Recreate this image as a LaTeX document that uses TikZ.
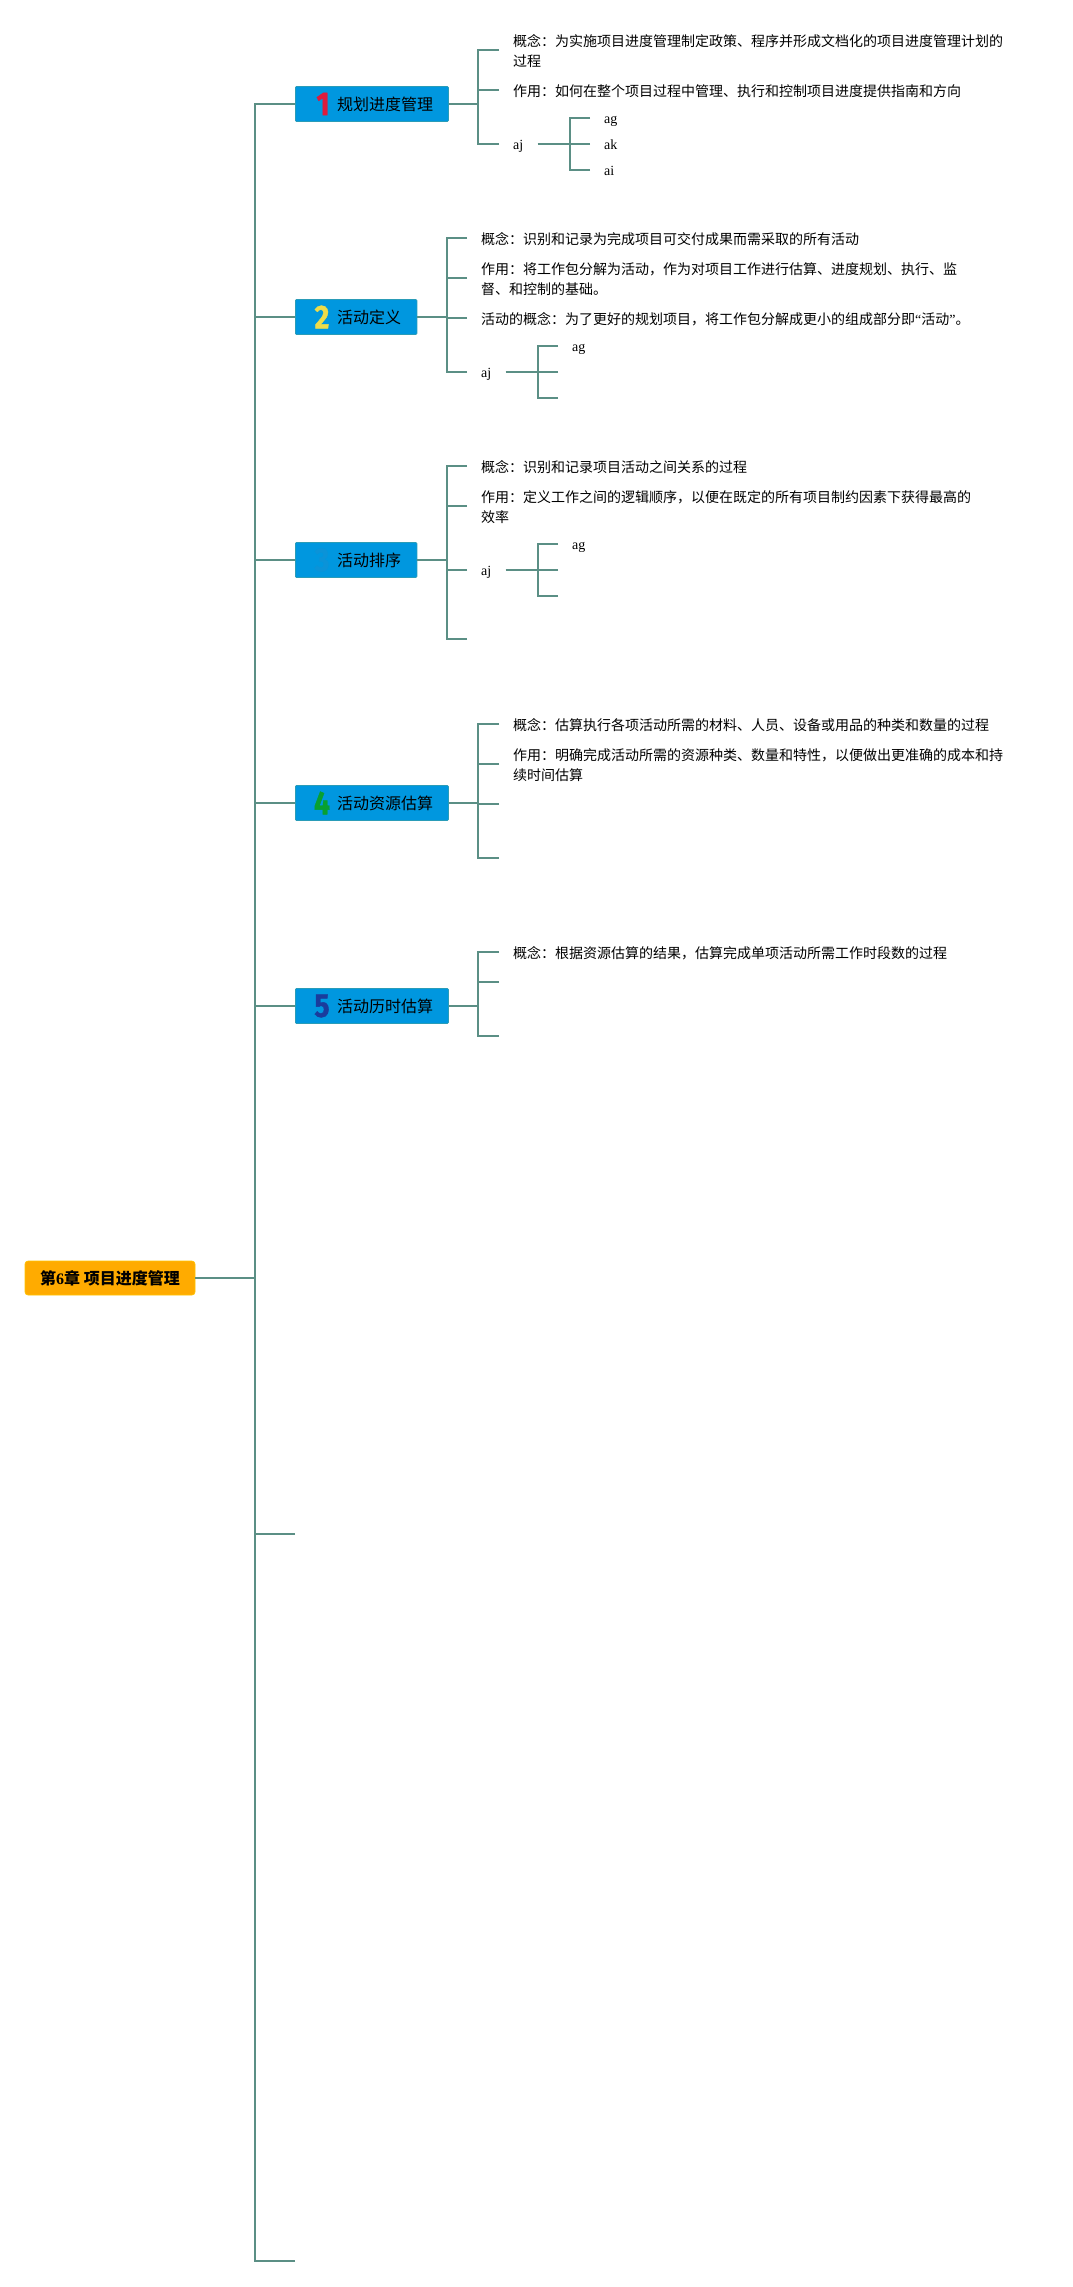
\documentclass[tikz,border=0pt]{standalone}
\usepackage{fontspec}
\usepackage{graphicx}
\setmainfont{Liberation Serif}
\newfontfamily\cjk{Noto Sans CJK SC}
\newfontfamily\digitfont[BoldFeatures={FakeBold=1.2}]{Fira Sans}
\definecolor{linecol}{HTML}{5B8F85}
\definecolor{nodeblue}{HTML}{0097DF}
\definecolor{nodeedge}{HTML}{2A9CB8}
\definecolor{rootfill}{HTML}{FFAB00}
\definecolor{dred}{HTML}{DE1A3C}
\definecolor{dyellow}{HTML}{EEDC4A}
\definecolor{dgreen}{HTML}{08A030}
\definecolor{dblue}{HTML}{1A3C9C}
\definecolor{dfaint}{HTML}{0B93D8}
\newcommand{\dg}[1]{\scalebox{.86}[1]{#1}}
\tikzset{
  conn/.style={draw=linecol,line width=2pt},
  rootbox/.style={fill=rootfill,draw=rootfill!70!yellow,line width=.6pt,rounded corners=3pt,minimum width=170pt,minimum height=34pt,inner sep=0pt,font=\fontsize{16}{20}\selectfont\bfseries\cjk},
  topic/.style={fill=nodeblue,draw=nodeedge,line width=.8pt,rounded corners=1pt,minimum height=35pt,inner sep=0pt,anchor=west},
  topictext/.style={anchor=west,inner sep=0pt,font=\fontsize{16}{20}\selectfont\cjk},
  digit/.style={inner sep=0pt,font=\fontsize{33}{33}\selectfont\digitfont\bfseries},
  leaf/.style={anchor=west,inner ysep=0pt,inner xsep=14pt,align=left,text height=15pt,font=\fontsize{14}{20}\selectfont\cjk},
  leaftwo/.style={leaf,text height=35pt},
  small/.style={anchor=west,inner ysep=0pt,inner xsep=14pt,text height=13pt,text depth=3pt,font=\fontsize{14}{20}\selectfont}
}
\begin{document}
\begin{tikzpicture}[x=1pt,y=-1pt]
\useasboundingbox (0,0) rectangle (1073,2287);
\fill[white] (0,0) rectangle (1073,2287);
% root and trunk
\node[rootbox] (root) at (110,1278) {第{\rmfamily\bfseries 6}章 项目进度管理};
\coordinate (trunk) at (255,1278);
% topics
\node[topic,minimum width=153pt] (t1) at (295,104) {};
\node[topic,minimum width=121.5pt] (t2) at (295,317) {};
\node[topic,minimum width=121.5pt] (t3) at (295,560) {};
\node[topic,minimum width=153pt] (t4) at (295,803) {};
\node[topic,minimum width=153pt] (t5) at (295,1006) {};
\coordinate (t6) at (295,1534);
\coordinate (t7) at (295,2261);
\node[topictext] (t1x) at (337,104.5) {规划进度管理};
\node[topictext] (t2x) at (337,317.5) {活动定义};
\node[topictext] (t3x) at (337,560.5) {活动排序};
\node[topictext] (t4x) at (337,803.5) {活动资源估算};
\node[topictext] (t5x) at (337,1006.5) {活动历时估算};
\node[digit,text=dred] (d1) at (323,104) {\dg{1}};
\node[digit,text=dyellow] (d2) at (322,317) {\dg{2}};
\node[digit,text=dfaint] (d3) at (322,560) {\dg{3}};
\node[digit,text=dgreen] (d4) at (322,803) {\dg{4}};
\node[digit,text=dblue] (d5) at (322,1006) {\dg{5}};
% trunk connectors
\draw[conn] (root.east) -- (trunk);
\foreach \t in {t1,t2,t3,t4,t5,t6,t7} {\draw[conn] (\t.west) -| (trunk);}
% group 1
\coordinate (j1) at (478,104);
\node[leaftwo] (a1) at (499,50) {概念：为实施项目进度管理制定政策、程序并形成文档化的项目进度管理计划的\\过程};
\node[leaf] (a2) at (499,90) {作用：如何在整个项目过程中管理、执行和控制项目进度提供指南和方向};
\node[small] (a3) at (499,144) {aj};
\coordinate (j1b) at (570,144);
\node[small] (a31) at (590,118) {ag};
\node[small] (a32) at (590,144) {ak};
\node[small] (a33) at (590,170) {ai};
\draw[conn] (t1.east) -- (j1);
\foreach \n in {a1,a2,a3} {\draw[conn] (\n.west) -| (j1);}
\draw[conn] (a3.east) -- (j1b);
\foreach \n in {a31,a32,a33} {\draw[conn] (\n.west) -| (j1b);}
% group 2
\coordinate (j2) at (447,317);
\node[leaf] (b1) at (467,238) {概念：识别和记录为完成项目可交付成果而需采取的所有活动};
\node[leaftwo] (b2) at (467,278) {作用：将工作包分解为活动，作为对项目工作进行估算、进度规划、执行、监\\督、和控制的基础。};
\node[leaf] (b3) at (467,318) {活动的概念：为了更好的规划项目，将工作包分解成更小的组成部分即{\rmfamily “}活动{\rmfamily ”}。};
\node[small] (b4) at (467,372) {aj};
\coordinate (j2b) at (538,372);
\node[small] (b41) at (558,346) {ag};
\coordinate (b42) at (558,372);
\coordinate (b43) at (558,398);
\draw[conn] (t2.east) -- (j2);
\foreach \n in {b1,b2,b3,b4} {\draw[conn] (\n.west) -| (j2);}
\draw[conn] (b4.east) -- (j2b);
\draw[conn] (b41.west) -| (j2b);
\draw[conn] (b42) -- (j2b);
\draw[conn] (b43) -| (j2b);
% group 3
\coordinate (j3) at (447,560);
\node[leaf] (c1) at (467,466) {概念：识别和记录项目活动之间关系的过程};
\node[leaftwo] (c2) at (467,506) {作用：定义工作之间的逻辑顺序，以便在既定的所有项目制约因素下获得最高的\\效率};
\node[small] (c3) at (467,570) {aj};
\coordinate (c4) at (467,639);
\coordinate (j3b) at (538,570);
\node[small] (c31) at (558,544) {ag};
\coordinate (c32) at (558,570);
\coordinate (c33) at (558,596);
\draw[conn] (t3.east) -- (j3);
\foreach \n in {c1,c2,c3} {\draw[conn] (\n.west) -| (j3);}
\draw[conn] (c4) -| (j3);
\draw[conn] (c3.east) -- (j3b);
\draw[conn] (c31.west) -| (j3b);
\draw[conn] (c32) -- (j3b);
\draw[conn] (c33) -| (j3b);
% group 4
\coordinate (j4) at (478,803);
\node[leaf] (e1) at (499,724) {概念：估算执行各项活动所需的材料、人员、设备或用品的种类和数量的过程};
\node[leaftwo] (e2) at (499,764) {作用：明确完成活动所需的资源种类、数量和特性，以便做出更准确的成本和持\\续时间估算};
\coordinate (e3) at (499,804);
\coordinate (e4) at (499,858);
\draw[conn] (t4.east) -- (j4);
\foreach \n in {e1,e2} {\draw[conn] (\n.west) -| (j4);}
\draw[conn] (e3) -| (j4);
\draw[conn] (e4) -| (j4);
% group 5
\coordinate (j5) at (478,1006);
\node[leaf] (f1) at (499,952) {概念：根据资源估算的结果，估算完成单项活动所需工作时段数的过程};
\coordinate (f2) at (499,982);
\coordinate (f3) at (499,1036);
\draw[conn] (t5.east) -- (j5);
\draw[conn] (f1.west) -| (j5);
\draw[conn] (f2) -| (j5);
\draw[conn] (f3) -| (j5);
\end{tikzpicture}
\end{document}
